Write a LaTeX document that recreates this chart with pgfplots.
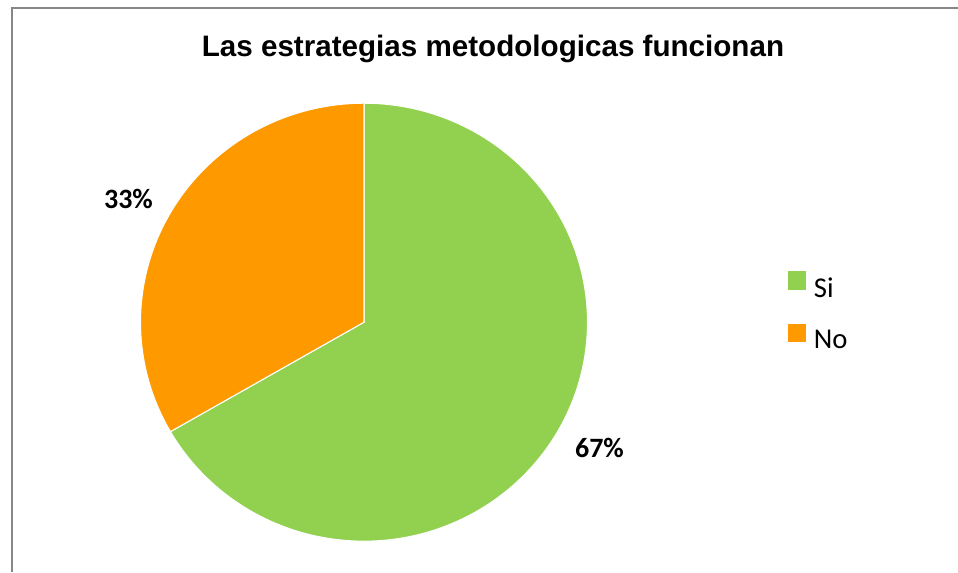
\documentclass[border=0pt]{standalone}
\usepackage{pgfplots}
\usepackage{pgfplotstable}
\pgfplotsset{compat=1.18}
\usepackage{fontspec}
\setmainfont{Carlito}
\newfontfamily\titlefont{Liberation Sans}
\definecolor{siGreen}{HTML}{92D050}
\definecolor{noOrange}{HTML}{FF9900}
\definecolor{frameGray}{HTML}{878787}
\newcommand{\legfont}{\fontsize{21.5}{23}\selectfont}
\pgfplotstableread{
label value
Si 66.67
No 33.33
}\piedata
\begin{document}%
\begin{tikzpicture}
\pgfplotstablegetelem{0}{value}\of\piedata \pgfmathsetmacro{\vSi}{\pgfplotsretval}
\pgfplotstablegetelem{1}{value}\of\piedata \pgfmathsetmacro{\vNo}{\pgfplotsretval}
\pgfmathsetmacro{\aSi}{90-3.6*\vSi}
\pgfmathsetmacro{\aNo}{90+3.6*\vNo}
\begin{axis}[x=0.75pt, y=0.75pt, xmin=0, xmax=958, ymin=0, ymax=572,
  hide axis, clip=false,
  legend style={at={(axis cs:788,300.5)}, anchor=north west, draw=none, fill=none,
    inner sep=0pt, outer sep=0pt, row sep=16.3pt},
  legend cell align=left]
\coordinate (BL) at (axis cs:0,0);
\coordinate (TR) at (axis cs:958,572);
\draw[frameGray, line width=1.9pt] (axis cs:12,0) -- (axis cs:12,564) -- (axis cs:958,564);
\addplot[fill=siGreen, draw=white, line width=0.8pt, domain=\aSi:90, samples=200, variable=\t,
  legend image code/.code={\fill[siGreen] (0pt,-0.5pt) rectangle (12.8pt,12.3pt);\path[draw=none,fill=none] (0pt,0pt) -- (17pt,0pt);}]
  ({364+223.5*cos(\t)},{249.8+219*sin(\t)}) -- (axis cs:364,249.8) -- cycle;
\addlegendentry{\legfont Si}
\addplot[fill=noOrange, draw=white, line width=0.8pt, domain=90:\aNo, samples=120, variable=\t,
  legend image code/.code={\fill[noOrange] (0pt,-0.5pt) rectangle (12.8pt,12.3pt);\path[draw=none,fill=none] (0pt,0pt) -- (17pt,0pt);}]
  ({364+223.5*cos(\t)},{249.8+219*sin(\t)}) -- (axis cs:364,249.8) -- cycle;
\addlegendentry{\legfont No}
\node[font=\titlefont\bfseries\fontsize{22.2}{26}\selectfont, anchor=base] at (axis cs:493,515) {Las estrategias metodologicas funcionan};
\node[font=\bfseries\fontsize{21}{24}\selectfont] at (axis cs:128.5,373.5) {33\%};
\node[font=\bfseries\fontsize{21}{24}\selectfont] at (axis cs:599.5,124) {67\%};
\end{axis}
\pgfresetboundingbox
\useasboundingbox (BL) rectangle (TR);
\end{tikzpicture}%
\end{document}
